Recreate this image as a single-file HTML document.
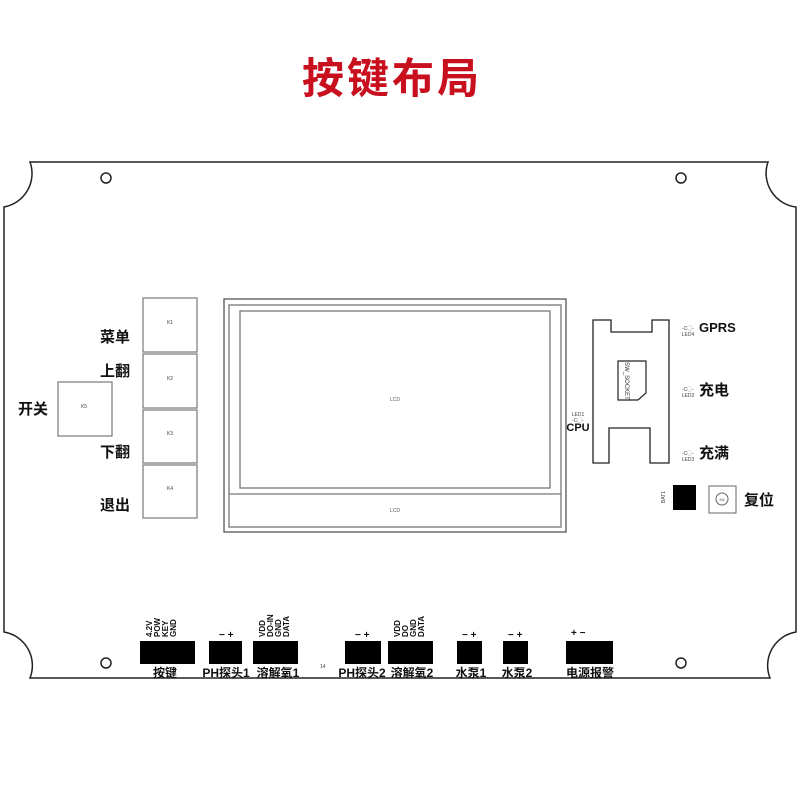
<!DOCTYPE html>
<html><head><meta charset="utf-8"><style>
body{margin:0;background:#fff;}
svg{display:block;}
text{font-family:"Liberation Sans","Noto Sans CJK SC",sans-serif;}
.cn{font-family:"Liberation Sans","Noto Sans CJK SC",sans-serif;font-weight:bold;}
</style></head><body>
<svg width="800" height="800" viewBox="0 0 800 800" xmlns="http://www.w3.org/2000/svg">
<text x="392" y="93" text-anchor="middle" font-size="42" font-weight="bold" fill="#c8101e" class="cn" letter-spacing="3">按键布局</text>
<!-- board outline -->
<g fill="none" stroke="#222" stroke-width="1.5">
<path d="M30 162 L768 162 A34 34 0 0 0 796 207 L796 632 A34 34 0 0 0 770 678 L30 678 A34 34 0 0 0 4 632 L4 207 A34 34 0 0 0 30 162 Z"/>
<circle cx="106" cy="178" r="5"/><circle cx="681" cy="178" r="5"/>
<circle cx="106" cy="663" r="5"/><circle cx="681" cy="663" r="5"/>
</g>
<!-- buttons -->
<g fill="none" stroke="#777" stroke-width="1.2">
<rect x="143" y="298" width="54" height="54"/>
<rect x="143" y="354" width="54" height="54"/>
<rect x="143" y="410" width="54" height="53"/>
<rect x="143" y="465" width="54" height="53"/>
<rect x="58" y="382" width="54" height="54"/>
</g>
<g font-size="5" fill="#444" text-anchor="middle">
<text x="170" y="324">K1</text><text x="170" y="380">K2</text><text x="170" y="435">K3</text><text x="170" y="490">K4</text><text x="84" y="408">K5</text>
</g>
<g font-size="15" class="cn" fill="#111">
<text x="100" y="342">菜单</text>
<text x="100" y="376">上翻</text>
<text x="18" y="414">开关</text>
<text x="100" y="457">下翻</text>
<text x="100" y="510">退出</text>
</g>
<!-- LCD -->
<g fill="none" stroke="#777" stroke-width="1.3">
<rect x="224" y="299" width="342" height="233" stroke="#555"/>
<rect x="229" y="305" width="332" height="222"/>
<rect x="240" y="311" width="310" height="177"/>
<line x1="229" y1="494" x2="561" y2="494"/>
</g>
<text x="395" y="401" font-size="5" fill="#555" text-anchor="middle">LCD</text>
<text x="395" y="512" font-size="5" fill="#555" text-anchor="middle">LCD</text>
<!-- CPU module -->
<path d="M593 320 L611 320 L611 332 L652 332 L652 320 L669 320 L669 463 L650 463 L650 428 L609 428 L609 463 L593 463 Z" fill="none" stroke="#222" stroke-width="1.3"/>
<path d="M618 361 L646 361 L646 393 L638 400 L618 400 Z" fill="none" stroke="#222" stroke-width="1.2"/>
<text transform="translate(625,381) rotate(90)" font-size="6" fill="#333" text-anchor="middle">SW_SOCKET</text>
<g font-size="5" fill="#444" text-anchor="middle">
<text x="578" y="416">LED1</text><text x="578" y="422">-C◯-</text>
<text x="688" y="330">-C◯-</text><text x="688" y="336">LED4</text>
<text x="688" y="391">-C◯-</text><text x="688" y="397">LED2</text>
<text x="688" y="455">-C◯-</text><text x="688" y="461">LED3</text>
</g>
<text x="578" y="431" font-size="11" font-weight="bold" fill="#111" text-anchor="middle">CPU</text>
<text x="699" y="332" font-size="13" font-weight="bold" fill="#111">GPRS</text>
<text x="699" y="395" font-size="15" class="cn" fill="#111">充电</text>
<text x="699" y="458" font-size="15" class="cn" fill="#111">充满</text>
<rect x="673" y="485" width="23" height="25" fill="#000"/>
<text transform="translate(665,497) rotate(-90)" font-size="5" fill="#444" text-anchor="middle">BAT1</text>
<rect x="709" y="486" width="27" height="27" fill="none" stroke="#666" stroke-width="1"/>
<circle cx="722" cy="499" r="6" fill="none" stroke="#666" stroke-width="1"/>
<text x="722" y="501" font-size="4" fill="#444" text-anchor="middle">K6</text>
<text x="744" y="505" font-size="15" class="cn" fill="#111">复位</text>
<!-- connectors -->
<g fill="#000">
<rect x="140" y="641" width="55" height="23"/>
<rect x="209" y="641" width="33" height="23"/>
<rect x="253" y="641" width="45" height="23"/>
<rect x="345" y="641" width="36" height="23"/>
<rect x="388" y="641" width="45" height="23"/>
<rect x="457" y="641" width="25" height="23"/>
<rect x="503" y="641" width="25" height="23"/>
<rect x="566" y="641" width="47" height="23"/>
</g>
<g font-size="12" class="cn" fill="#111" text-anchor="middle">
<text x="165" y="677">按键</text>
<text x="226" y="677">PH探头1</text>
<text x="278" y="677">溶解氧1</text>
<text x="362" y="677">PH探头2</text>
<text x="412" y="677">溶解氧2</text>
<text x="471" y="677">水泵1</text>
<text x="517" y="677">水泵2</text>
<text x="590" y="677">电源报警</text>
</g>
<text x="320" y="668" font-size="5" fill="#444">14</text>
<g font-size="10" font-weight="bold" fill="#111">
<text x="219" y="638">− +</text>
<text x="355" y="638">− +</text>
<text x="462" y="638">− +</text>
<text x="508" y="638">− +</text>
<text x="571" y="636">+ −</text>
</g>
<g font-size="8" font-weight="bold" fill="#111">
<text transform="translate(152,637) rotate(-90)">4.2V</text>
<text transform="translate(160,637) rotate(-90)">POW</text>
<text transform="translate(168,637) rotate(-90)">KEY</text>
<text transform="translate(176,637) rotate(-90)">GND</text>
<text transform="translate(265,637) rotate(-90)">VDD</text>
<text transform="translate(273,637) rotate(-90)">DO-IN</text>
<text transform="translate(281,637) rotate(-90)">GND</text>
<text transform="translate(289,637) rotate(-90)">DATA</text>
<text transform="translate(400,637) rotate(-90)">VDD</text>
<text transform="translate(408,637) rotate(-90)">DO</text>
<text transform="translate(416,637) rotate(-90)">GND</text>
<text transform="translate(424,637) rotate(-90)">DATA</text>
</g>
</svg>
</body></html>
